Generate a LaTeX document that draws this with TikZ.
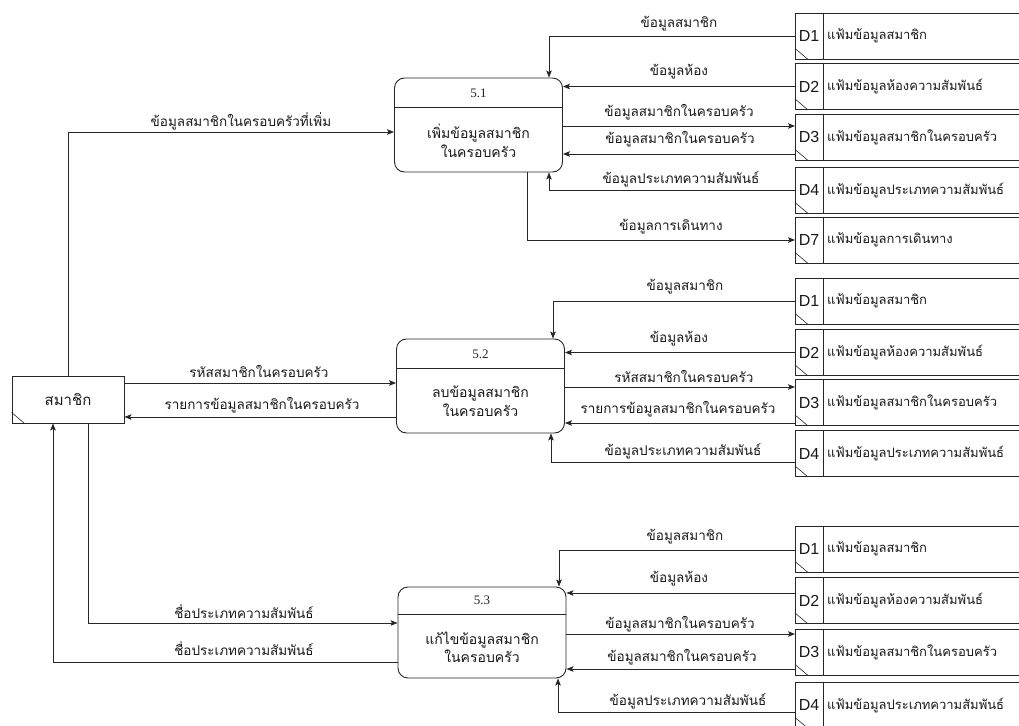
\documentclass[tikz,border=0pt]{standalone}
\usepackage{fontspec}
\setmainfont{Liberation Sans}
\newfontfamily\thai[Script=Thai]{Loma}
\newfontfamily\numfont{Liberation Serif}
\usetikzlibrary{arrows.meta,calc}

\tikzset{
  ln/.style={draw=black!85, line width=0.9pt},
  flow/.style={ln, -{Stealth[length=7pt,width=5.5pt,inset=1.5pt]}},
  lbl/.style={font=\thai\fontsize{13.5}{15}\selectfont, inner sep=0pt, text=black!90},
  sttl/.style={font=\thai\fontsize{13}{15}\selectfont, inner sep=0pt, text=black!90},
  idlbl/.style={font=\fontsize{16}{18}\selectfont, inner sep=0pt, text=black!90},
  num/.style={font=\numfont\fontsize{13}{15}\selectfont, inner sep=0pt, text=black!85},
  ptext/.style={font=\thai\fontsize{14}{18.5}\selectfont, inner sep=0pt, align=center, text=black!90},
  proc/.style={ln, rounded corners=10pt, minimum width=168pt, inner sep=0pt},
  store/.style={ln, minimum width=330pt, minimum height=46pt, anchor=west, inner sep=0pt},
  entity/.style={ln, minimum width=112pt, minimum height=47pt, inner sep=0pt},
}

% data store: name, centre y, id, title
\newcommand\dstore[4]{%
  \node[store] (#1) at (795,#2) {};
  \draw[ln] ([xshift=28pt]#1.north west) -- ([xshift=28pt]#1.south west);
  \draw[draw=black!85, line width=0.6pt] ([yshift=11pt]#1.south west) -- ([xshift=13pt]#1.south west);
  \node[idlbl] (#1id) at ([xshift=14pt]#1.west) {#3};
  \node[sttl, anchor=west] (#1tx) at ([xshift=32pt]#1.west) {#4};
}

\begin{document}
\begin{tikzpicture}[x=1pt,y=-1pt]
\useasboundingbox (0,0) rectangle (1019,725);
\clip (0,0) rectangle (1019,725);
\fill[white] (0,0) rectangle (1019,725);

% external entity
\node[entity] (ent) at (68,399.5) {};
\node[lbl, font=\thai\fontsize{15}{17}\selectfont] (enttx) at (ent.center) {สมาชิก};
\draw[draw=black!85, line width=0.6pt] ([yshift=11pt]ent.south west) -- ([xshift=13pt]ent.south west);

% processes
\node[proc, minimum height=94pt] (p51) at (478.5,125) {};
\draw[ln] (p51.west |- 0,107) -- (p51.east |- 0,107);
\node[num] (n51) at (478.5,93) {5.1};
\node[ptext] (t51) at (478.5,141) {เพิ่มข้อมูลสมาชิก\\ในครอบครัว};

\node[proc, minimum height=94pt] (p52) at (480.5,386) {};
\draw[ln] (p52.west |- 0,368) -- (p52.east |- 0,368);
\node[num] (n52) at (480.5,354) {5.2};
\node[ptext] (t52) at (480.5,401) {ลบข้อมูลสมาชิก\\ในครอบครัว};

\node[proc, minimum height=91pt] (p53) at (482,632.5) {};
\draw[ln] (p53.west |- 0,614) -- (p53.east |- 0,614);
\node[num] (n53) at (482,600.5) {5.3};
\node[ptext] (t53) at (482,647) {แก้ไขข้อมูลสมาชิก\\ในครอบครัว};

% data stores, group 5.1
\dstore{d1a}{36}{D1}{แฟ้มข้อมูลสมาชิก}
\dstore{d2a}{86.5}{D2}{แฟ้มข้อมูลห้องความสัมพันธ์}
\dstore{d3a}{137}{D3}{แฟ้มข้อมูลสมาชิกในครอบครัว}
\dstore{d4a}{190}{D4}{แฟ้มข้อมูลประเภทความสัมพันธ์}
\dstore{d7a}{240}{D7}{แฟ้มข้อมูลการเดินทาง}
% data stores, group 5.2
\dstore{d1b}{301}{D1}{แฟ้มข้อมูลสมาชิก}
\dstore{d2b}{352.5}{D2}{แฟ้มข้อมูลห้องความสัมพันธ์}
\dstore{d3b}{402.5}{D3}{แฟ้มข้อมูลสมาชิกในครอบครัว}
\dstore{d4b}{453.5}{D4}{แฟ้มข้อมูลประเภทความสัมพันธ์}
% data stores, group 5.3
\dstore{d1c}{549}{D1}{แฟ้มข้อมูลสมาชิก}
\dstore{d2c}{600.5}{D2}{แฟ้มข้อมูลห้องความสัมพันธ์}
\dstore{d3c}{652}{D3}{แฟ้มข้อมูลสมาชิกในครอบครัว}
\dstore{d4c}{705}{D4}{แฟ้มข้อมูลประเภทความสัมพันธ์}

% flows of 5.1
\draw[flow] (d1a.west) -| ([xshift=70.5pt]p51.north);
\draw[flow] (d2a.west) -- (p51.east |- d2a.west);
\draw[flow] (p51.east |- 0,126) -- (d3a.west |- 0,126);
\draw[flow] (d3a.west |- 0,154) -- (p51.east |- 0,154);
\draw[flow] (d4a.west) -| ([xshift=70.5pt]p51.south);
\draw[flow] ([xshift=48.5pt]p51.south) |- (d7a.west);
\node[lbl] (fa1) at (679,24) {ข้อมูลสมาชิก};
\node[lbl] (fa2) at (679,72) {ข้อมูลห้อง};
\node[lbl] (fa3) at (679,112) {ข้อมูลสมาชิกในครอบครัว};
\node[lbl] (fa4) at (680,139) {ข้อมูลสมาชิกในครอบครัว};
\node[lbl] (fa5) at (681,179) {ข้อมูลประเภทความสัมพันธ์};
\node[lbl] (fa6) at (671,227) {ข้อมูลการเดินทาง};

% flows of 5.2
\draw[flow] (d1b.west) -| ([xshift=72.5pt]p52.north);
\draw[flow] (d2b.west) -- (p52.east |- d2b.west);
\draw[flow] (p52.east |- 0,387) -- (d3b.west |- 0,387);
\draw[flow] (d3b.west |- 0,423) -- (p52.east |- 0,423);
\draw[flow] (d4b.west |- 0,462) -| ([xshift=70.5pt]p52.south);
\node[lbl] (fb1) at (685,287) {ข้อมูลสมาชิก};
\node[lbl] (fb2) at (679,339) {ข้อมูลห้อง};
\node[lbl] (fb3) at (684,376) {รหัสสมาชิกในครอบครัว};
\node[lbl] (fb4) at (678,409) {รายการข้อมูลสมาชิกในครอบครัว};
\node[lbl] (fb5) at (683,451) {ข้อมูลประเภทความสัมพันธ์};

% flows of 5.3
\draw[flow] (d1c.west |- 0,550) -| ([xshift=77pt]p53.north);
\draw[flow] (d2c.west |- 0,593) -- (p53.east |- 0,593);
\draw[flow] (p53.east |- 0,634) -- (d3c.west |- 0,634);
\draw[flow] (d3c.west |- 0,669) -- (p53.east |- 0,669);
\draw[flow] (d4c.west |- 0,712) -| ([xshift=76pt]p53.south);
\node[lbl] (fc1) at (685,537) {ข้อมูลสมาชิก};
\node[lbl] (fc2) at (679,579) {ข้อมูลห้อง};
\node[lbl] (fc3) at (680,624) {ข้อมูลสมาชิกในครอบครัว};
\node[lbl] (fc4) at (682,657) {ข้อมูลสมาชิกในครอบครัว};
\node[lbl] (fc5) at (688,701) {ข้อมูลประเภทความสัมพันธ์};

% flows between the member entity and the processes
\draw[flow] (ent.north) |- (p51.west |- 0,132);
\draw[flow] (ent.east |- 0,383) -- (p52.west |- 0,383);
\draw[flow] (p52.west |- 0,417) -- (ent.east |- 0,417);
\draw[flow] ([xshift=20pt]ent.south) |- (p53.west |- 0,623);
\draw[flow] (p53.west |- 0,662) -| ([xshift=-15pt]ent.south);
\node[lbl] (fe1) at (241,121) {ข้อมูลสมาชิกในครอบครัวที่เพิ่ม};
\node[lbl] (fe2) at (259,371) {รหัสสมาชิกในครอบครัว};
\node[lbl] (fe3) at (262,405) {รายการข้อมูลสมาชิกในครอบครัว};
\node[lbl] (fe4) at (244,612) {ชื่อประเภทความสัมพันธ์};
\node[lbl] (fe5) at (244,649) {ชื่อประเภทความสัมพันธ์};
\end{tikzpicture}
\end{document}
